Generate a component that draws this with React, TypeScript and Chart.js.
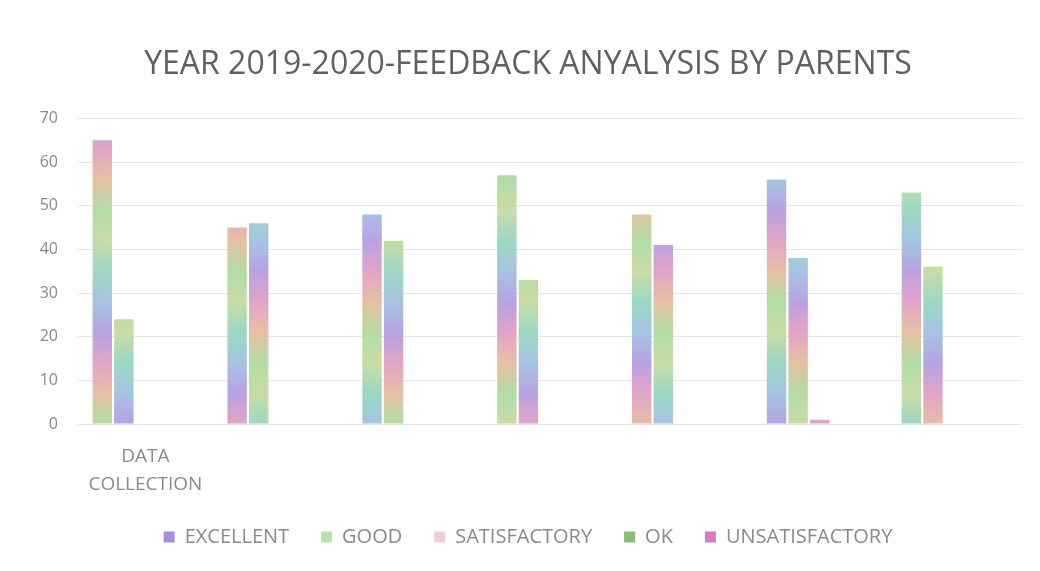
import React, { useEffect, useRef } from "react";
import { Chart, registerables } from "chart.js";

Chart.register(...registerables);

const categories: (string | string[])[] = [["DATA", "COLLECTION"], "", "", "", "", "", ""];
const excellent = [65, 45, 48, 57, 48, 56, 53];
const good = [24, 46, 42, 33, 41, 38, 36];
const satisfactory = [0, 0, 0, 0, 0, 1, 0];
const ok = [0, 0, 0, 0, 0, 0, 0];
const unsatisfactory = [0, 0, 0, 0, 0, 0, 0];

const seriesNames = ["EXCELLENT", "GOOD", "SATISFACTORY", "OK", "UNSATISFACTORY"];
const legendColors = ["#a98be0", "#b5e3a8", "#f3cbd6", "#86bf72", "#d57bbf"];
const pastelCycle = ["#b2dca6", "#e6c0a2", "#e2a4c8", "#b7a2e2", "#a6c4e2", "#9cd8c2", "#cadca6"];

function gradientFor(ctx: any) {
  const chart = ctx.chart;
  const area = chart.chartArea;
  if (!area) return legendColors[ctx.datasetIndex];
  const g = chart.ctx.createLinearGradient(0, area.bottom, 0, area.top);
  const phase = (ctx.dataIndex * 2 + ctx.datasetIndex * 3) % pastelCycle.length;
  const n = 10;
  for (let i = 0; i <= n; i++) {
    g.addColorStop(i / n, pastelCycle[(i + phase) % pastelCycle.length]);
  }
  return g;
}

export default function App() {
  const ref = useRef<HTMLCanvasElement | null>(null);
  useEffect(() => {
    if (!ref.current) return;
    const data = [excellent, good, satisfactory, ok, unsatisfactory];
    const chart = new Chart(ref.current, {
      type: "bar",
      data: {
        labels: categories,
        datasets: data.map((d, i) => ({
          label: seriesNames[i],
          data: d,
          backgroundColor: gradientFor,
          borderWidth: 0,
        })),
      },
      options: {
        animation: false,
        responsive: true,
        maintainAspectRatio: false,
        layout: { padding: { left: 34, right: 18, top: 46, bottom: 14 } },
        plugins: {
          title: {
            display: true,
            text: "YEAR 2019-2020-FEEDBACK ANYALYSIS BY PARENTS",
            color: "#606060",
            font: { family: "Open Sans", size: 32, weight: "normal" },
            padding: { top: 0, bottom: 34 },
          },
          legend: {
            position: "bottom",
            labels: {
              color: "#8a8a8a",
              font: { family: "Open Sans", size: 20 },
              boxWidth: 11,
              boxHeight: 11,
              padding: 32,
              generateLabels: () =>
                seriesNames.map((n, i) => ({
                  text: n,
                  fillStyle: legendColors[i],
                  strokeStyle: legendColors[i],
                  lineWidth: 0,
                  fontColor: "#8a8a8a",
                  datasetIndex: i,
                  hidden: false,
                })),
            },
          },
          tooltip: { enabled: false },
        },
        scales: {
          x: {
            grid: { display: false },
            border: { display: false },
            ticks: { color: "#8a8a8a", font: { family: "Open Sans", size: 19, lineHeight: 1.5 }, maxRotation: 0, autoSkip: false, padding: 10 },
            afterFit: (scale: any) => {
              scale.height = 71;
            },
          },
          y: {
            min: 0,
            max: 70,
            ticks: { stepSize: 10, color: "#8a8a8a", font: { family: "Open Sans", size: 16 }, padding: 20 },
            grid: { color: "#e6e6e6", drawTicks: false },
            border: { display: false },
            afterFit: (scale: any) => {
              scale.width = 44;
            },
          },
        },
      },
    });
    return () => chart.destroy();
  }, []);
  return (
    <div style={{ position: "fixed", left: 0, top: 0, width: 1040, height: 571, background: "#fff" }}>
      <canvas ref={ref} />
    </div>
  );
}
